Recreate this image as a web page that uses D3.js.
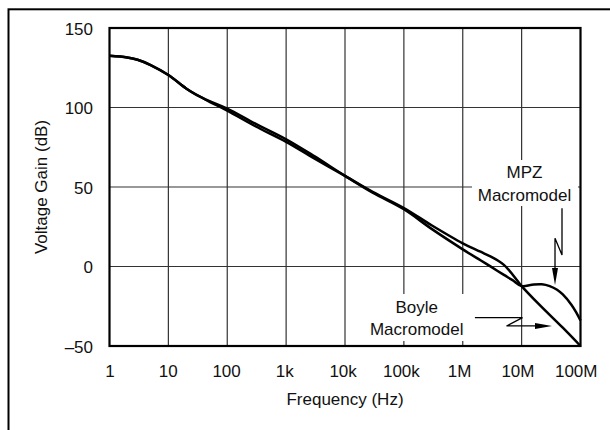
<!DOCTYPE html>
<html>
<head>
<meta charset="utf-8">
<script src="https://cdnjs.cloudflare.com/ajax/libs/d3/7.8.5/d3.min.js"></script>
<style>
    body { margin: 0; background: #fff; }
    svg text { font-family: "Liberation Sans", Arial, sans-serif; font-size: 17px; fill: #111; }
</style>
</head>
<body>
<svg id="chart" width="610" height="430"></svg>
<script>
// axis ticks
const freqTicks = [1, 10, 100, 1e3, 1e4, 1e5, 1e6, 1e7, 1e8];
const freqLabels = ['1', '10', '100', '1k', '10k', '100k', '1M', '10M', '100M'];
const gainTicks = [-50, 0, 50, 100, 150];
const gainLabels = ['\u201350', '0', '50', '100', '150'];

// Boyle macromodel (Hz, dB)
const boyleFreq = [1, 2, 3, 5, 10, 20, 30, 50, 100, 300, 1e3, 3e3, 1e4, 3e4, 1e5, 3e5,
    1e6, 2e6, 3e6, 4e6, 5e6, 6e6, 7e6, 8.5e6, 1e7, 2e7, 5e7, 1e8];
const boyleGain = [132.5, 131.5, 130, 126.7, 120.4, 112, 108, 103.6, 98, 88.2, 78.4, 68, 57, 46.8, 36.8, 25.8,
    14.6, 9.3, 6.2, 3.6, 1.0, -2.0, -5.0, -9.0, -12.3, -24, -38.5, -50];

// MPZ macromodel (Hz, dB)
const mpzFreq = [1, 2, 3, 5, 10, 20, 30, 50, 100, 300, 1e3, 3e3, 1e4, 3e4, 1e5, 3e5,
    1e6, 2e6, 3e6, 5e6, 7e6, 1e7, 1.5e7, 2.2e7, 3e7, 4e7, 5e7, 7e7, 8.5e7, 1e8];
const mpzGain = [132.5, 131.5, 130, 126.7, 120.4, 112, 108, 104, 99.3, 89.8, 80, 69.4, 57, 46.3, 36, 23.5,
    10.8, 3.9, -0.1, -5.3, -8.6, -12.3, -11.5, -11.2, -12.3, -14.6, -17.6, -24, -29, -34];

// annotation arrows, in (Hz, dB)
const mpzArrowFreq = [4.85e7, 4.85e7, 3.69e7, 3.69e7];
const mpzArrowGain = [36.6, 7.2, 17.7, -11.6];
const boyleArrowFreq = [1.61e6, 1.035e7, 5.53e6, 3.28e7];
const boyleArrowGain = [-32.2, -32.2, -37.4, -37.4];

const svg = d3.select('#chart');
const margin = { left: 109.5, right: 29.5, top: 28, bottom: 84 };
const W = 610, H = 430;

const x = d3.scaleLog().domain([1, 1e8]).range([margin.left, W - margin.right]);
const y = d3.scaleLinear().domain([-50, 150]).range([H - margin.bottom, margin.top]);

// outer frame (runs off the right and bottom edges)
svg.append('rect')
    .attr('x', 8.5).attr('y', 9.3)
    .attr('width', 800).attr('height', 600)
    .attr('fill', 'none').attr('stroke', '#000').attr('stroke-width', 2);

// grid
const grid = svg.append('g').attr('stroke', '#333').attr('stroke-width', 1.2);
freqTicks.slice(1, -1).forEach(f => {
    grid.append('line')
        .attr('x1', x(f)).attr('x2', x(f))
        .attr('y1', y(150)).attr('y2', y(-50));
});
gainTicks.slice(1, -1).forEach(g => {
    grid.append('line')
        .attr('x1', x(1)).attr('x2', x(1e8))
        .attr('y1', y(g)).attr('y2', y(g));
});

// label backgrounds that break the grid
svg.append('rect').attr('x', 364).attr('y', 294).attr('width', 105).attr('height', 47).attr('fill', '#fff');
svg.append('rect').attr('x', 472).attr('y', 160).attr('width', 106).attr('height', 46).attr('fill', '#fff');

// axes
const xAxis = d3.axisBottom(x)
    .tickValues(freqTicks)
    .tickFormat((d, i) => freqLabels[i])
    .tickSize(0).tickPadding(18.6);
svg.append('g')
    .attr('transform', `translate(0,${y(-50)})`)
    .call(xAxis)
    .call(g => g.select('.domain').remove())
    .selectAll('text').attr('dx', (d, i) => -0.6 * i);

const yAxis = d3.axisLeft(y)
    .tickValues(gainTicks)
    .tickFormat((d, i) => gainLabels[i])
    .tickSize(0).tickPadding(16.5);
svg.append('g')
    .attr('transform', `translate(${x(1)},0)`)
    .call(yAxis)
    .call(g => g.select('.domain').remove())
    .selectAll('text').attr('dy', '0.38em');
svg.selectAll('.tick text')
    .style('font-size', '17px')
    .style('font-family', '"Liberation Sans", Arial, sans-serif')
    .attr('fill', '#111');

// titles
svg.append('text')
    .attr('x', (x(1) + x(1e8)) / 2).attr('y', 405)
    .attr('text-anchor', 'middle')
    .text('Frequency (Hz)');
svg.append('text')
    .attr('transform', `translate(47,${(y(150) + y(-50)) / 2}) rotate(-90)`)
    .attr('text-anchor', 'middle')
    .text('Voltage Gain (dB)');

// curves
const line = d3.line()
    .x(d => x(d[0]))
    .y(d => y(d[1]))
    .curve(d3.curveCatmullRom.alpha(0.5));

const boyle = boyleFreq.map((f, i) => [f, boyleGain[i]]);
const mpz = mpzFreq.map((f, i) => [f, mpzGain[i]]);

[boyle, mpz].forEach(series => {
    svg.append('path')
        .datum(series)
        .attr('d', line)
        .attr('fill', 'none')
        .attr('stroke', '#000')
        .attr('stroke-width', 2.5)
        .attr('stroke-linejoin', 'round');
});

// plot frame
svg.append('rect')
    .attr('x', x(1)).attr('y', y(150))
    .attr('width', x(1e8) - x(1)).attr('height', y(-50) - y(150))
    .attr('fill', 'none').attr('stroke', '#000').attr('stroke-width', 2.2);

// annotations
function drawArrow(freqs, gains, vertical) {
    const pts = freqs.map((f, i) => [x(f), y(gains[i])]);
    const tip = pts[pts.length - 1];
    const head = 17, half = 3;
    const stem = pts.slice(0, -1);
    stem.push(vertical ? [tip[0], tip[1] - head + 1] : [tip[0] - head + 1, tip[1]]);
    svg.append('path')
        .attr('d', d3.line()(stem))
        .attr('fill', 'none').attr('stroke', '#000').attr('stroke-width', 1.3);
    const tri = vertical
        ? [[tip[0], tip[1]], [tip[0] - half, tip[1] - head], [tip[0] + half, tip[1] - head]]
        : [[tip[0], tip[1]], [tip[0] - head, tip[1] - half], [tip[0] - head, tip[1] + half]];
    svg.append('path')
        .attr('d', d3.line()(tri) + 'Z')
        .attr('fill', '#000');
}
drawArrow(mpzArrowFreq, mpzArrowGain, true);
drawArrow(boyleArrowFreq, boyleArrowGain, false);

// series labels
function addLabel(cx, baseline, lines) {
    lines.forEach((t, i) => {
        svg.append('text')
            .attr('x', cx).attr('y', baseline + i * 22.3)
            .attr('text-anchor', 'middle')
            .text(t);
    });
}
addLabel(524.5, 178.3, ['MPZ', 'Macromodel']);
addLabel(416.7, 313, ['Boyle', 'Macromodel']);
</script>
</body>
</html>
